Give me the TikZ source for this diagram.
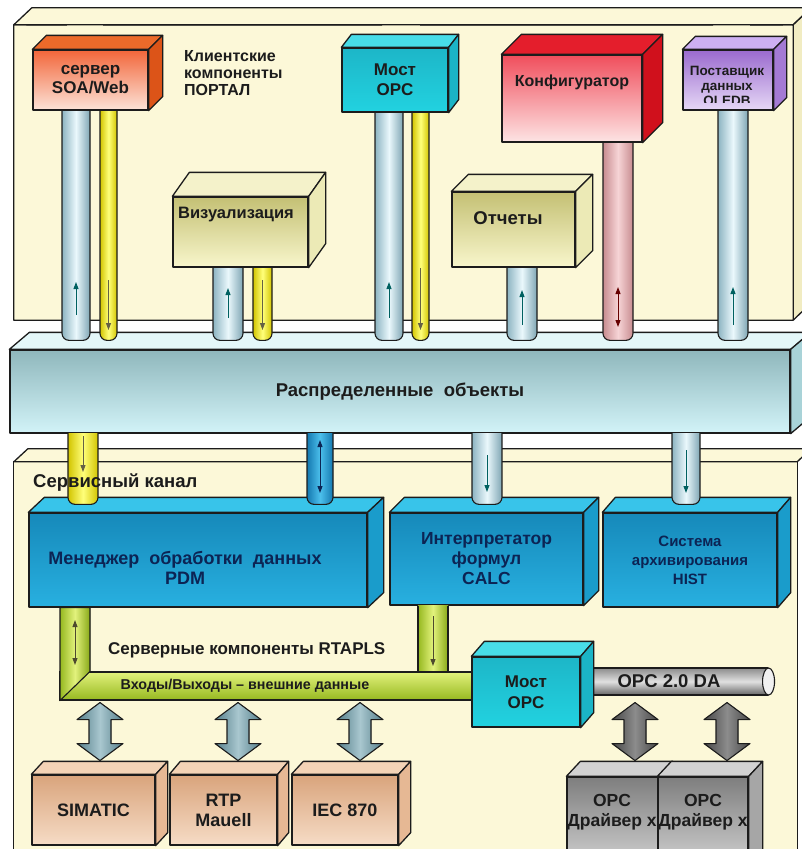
\documentclass[tikz,border=0pt]{standalone}
\usepackage{fontspec}
\setmainfont{Liberation Sans}
\usetikzlibrary{arrows.meta}

% palette
\definecolor{ink}{HTML}{1C1C1C}
\definecolor{navy}{HTML}{0C2454}
\definecolor{cream}{HTML}{FCF8D8}
\definecolor{creamside}{HTML}{F1ECC2}
\definecolor{barTop}{HTML}{E4F7F9}
\definecolor{barSide}{HTML}{A9D3D8}
\definecolor{barHi}{HTML}{8FB7BC}
\definecolor{barLo}{HTML}{D2F3F8}
\definecolor{soaHi}{HTML}{F2663A}
\definecolor{soaLo}{HTML}{FCE3D8}
\definecolor{soaTop}{HTML}{EC6A2A}
\definecolor{soaSide}{HTML}{DC5418}
\definecolor{cyanFront}{HTML}{22D2E0}
\definecolor{cyanHi}{HTML}{1DB6C8}
\definecolor{cyanTop}{HTML}{48DDE8}
\definecolor{cyanSide}{HTML}{1BB4C6}
\definecolor{cfgHi}{HTML}{F04E5C}
\definecolor{cfgLo}{HTML}{FDE4E4}
\definecolor{cfgTop}{HTML}{E41E2C}
\definecolor{cfgSide}{HTML}{D0101C}
\definecolor{oleHi}{HTML}{9A6ACE}
\definecolor{oleLo}{HTML}{E6D8F6}
\definecolor{oleTop}{HTML}{CDB0F2}
\definecolor{oleSide}{HTML}{A47AD4}
\definecolor{oliveHi}{HTML}{C4C074}
\definecolor{oliveLo}{HTML}{F8F6CC}
\definecolor{oliveTop}{HTML}{F4F2CA}
\definecolor{oliveSide}{HTML}{ECEAB6}
\definecolor{bluHi}{HTML}{1689BA}
\definecolor{bluLo}{HTML}{28B0E0}
\definecolor{bluTop}{HTML}{38C4EA}
\definecolor{bluSide}{HTML}{1A9CCB}
\definecolor{tanHi}{HTML}{D9A47C}
\definecolor{tanLo}{HTML}{F6DCC6}
\definecolor{tanTop}{HTML}{F3D3B6}
\definecolor{tanSide}{HTML}{E6B894}
\definecolor{grayHi}{HTML}{7E7E7E}
\definecolor{grayLo}{HTML}{D4D4D4}
\definecolor{grayTop}{HTML}{D2D2D2}
\definecolor{graySide}{HTML}{A6A6A6}
\definecolor{pbEdge}{HTML}{8DB4C2}
\definecolor{pbMid}{HTML}{EAF8FC}
\definecolor{pbDark}{HTML}{7FA6B4}
\definecolor{pyEdge}{HTML}{D2C400}
\definecolor{pyMid}{HTML}{FFFF7A}
\definecolor{ppEdge}{HTML}{C88C90}
\definecolor{ppMid}{HTML}{F6D4D6}
\definecolor{pdEdge}{HTML}{1478B0}
\definecolor{pdMid}{HTML}{4CC0EC}
\definecolor{limeEdge}{HTML}{96B820}
\definecolor{limeMid}{HTML}{E2F27C}
\definecolor{limeDark}{HTML}{88A818}
\definecolor{arrBlue}{HTML}{557F8B}
\definecolor{arrBlueMid}{HTML}{A9C7CF}

\newcommand\fs[2]{\fontsize{#1}{#2}\selectfont}

% front face of a block, given by its corners
\newcommand\frontbox[7]{%
  \node[front,#6,minimum width={#4-#2},minimum height={#5-#3}] (#1) at ({(#2+#4)/2},{(#3+#5)/2}) {#7};}
% top and right faces of a block
\newcommand\faces[5]{%
  \filldraw[edge,fill=#4] (#1.north west) -- ([shift={(#2,-#3)}]#1.north west)
     -- ([shift={(#2,-#3)}]#1.north east) -- (#1.north east) -- cycle;
  \filldraw[edge,fill=#5] (#1.north east) -- ([shift={(#2,-#3)}]#1.north east)
     -- ([shift={(#2,-#3)}]#1.south east) -- (#1.south east) -- cycle;}
% vertical pipe between x-left and x-right, from one point down to another
\newcommand\vpipe[5]{%
  \draw[#1] (#2,0 |- #4) -- (#2,0 |- #5) -- (#3,0 |- #5) -- (#3,0 |- #4);}
% double-headed block arrow hanging from a point
\newcommand\bigarrow[4]{%
  \begin{scope}[shift={(#2,0 |- #3)}]
    \filldraw[#1] (0,0) -- (23,17) -- (11,17) -- (11,#4-17) -- (23,#4-17) -- (0,#4)
       -- (-23,#4-17) -- (-11,#4-17) -- (-11,17) -- (-23,17) -- cycle;
  \end{scope}}

\tikzset{
  edge/.style={draw=ink,line width=1.3pt,line join=round},
  front/.style={edge,inner sep=0pt,align=center,font=\bfseries,text=ink},
  label/.style={inner sep=0pt,align=center,font=\bfseries,text=ink},
  pipe/.style={edge,line width=1.1pt,rounded corners=7pt},
  pipeblue/.style={pipe,left color=pbEdge,right color=pbDark,middle color=pbMid},
  pipeyellow/.style={pipe,left color=pyEdge,right color=pyEdge,middle color=pyMid},
  pipepink/.style={pipe,left color=ppEdge,right color=ppEdge,middle color=ppMid},
  pipedeep/.style={pipe,left color=pdEdge,right color=pdEdge,middle color=pdMid},
  pipelime/.style={edge,line width=1.1pt,left color=limeEdge,right color=limeDark,middle color=limeMid},
  flow/.style={line width=1pt,-{Triangle[length=7pt,width=5pt]}},
  flow2/.style={line width=1pt,{Triangle[length=7pt,width=5pt]}-{Triangle[length=7pt,width=5pt]}},
  bluearrow/.style={edge,line width=1.1pt,left color=arrBlue,right color=arrBlue,middle color=arrBlueMid},
  grayarrow/.style={edge,line width=1.1pt,left color=black!72,right color=black!72,middle color=black!45},
}

\begin{document}
\begin{tikzpicture}[x=1pt,y=-1pt]
\useasboundingbox (0,0) rectangle (802,849);
\clip (0,0) rectangle (802,849);
\fill[white] (0,0) rectangle (802,849);

% ---------- client panel ----------
\node[fill=cream,inner sep=0,minimum width=779,minimum height=295] (portal) at (403.5,172.5) {};
\filldraw[edge,fill=cream] (portal.north west) -- ++(18,-17) -- ++(779,0) -- (portal.north east) -- cycle;
\filldraw[edge,fill=creamside] (portal.north east) -- ++(18,-17) -- ++(0,295) -- (portal.south east) -- cycle;
\fill[cream] ([xshift=0.7pt,yshift=-0.7pt]portal.north west) rectangle ([xshift=-0.7pt]portal.south east);
\draw[edge] (portal.south east) -- (portal.south west) -- (portal.north west) -- (67,25)
  (103,25) -- (382,25) (420,25) -- (713,25) (750,25) -- (portal.north east) -- (portal.south east);

% ---------- distributed objects bar ----------
\frontbox{bar}{10}{350}{790}{433}{top color=barHi,bottom color=barLo,font=\bfseries\fs{18.5}{20}}{Распределенные\ \ объекты}
\faces{bar}{20}{17}{barTop}{barSide}
\coordinate (bartop) at ([yshift=9pt]bar.north);

% ---------- server panel ----------
\node[fill=cream,inner sep=0,minimum width=783,minimum height=400] (rtapls) at (405.5,662) {};
\filldraw[edge,fill=cream] (rtapls.north west) -- ++(14,-13) -- ++(783,0) -- (rtapls.north east) -- cycle;
\draw[edge] (rtapls.south west) -- (rtapls.north west) -- (rtapls.north east) -- (rtapls.south east);

% ---------- client pipes ----------
\coordinate (soa-b) at (90,110);
\coordinate (vis-b) at (240,267);
\coordinate (most-b) at (395,112);
\coordinate (otch-b) at (513,267);
\coordinate (konf-b) at (572,142);
\coordinate (post-b) at (728,110);
\vpipe{pipeblue}{62}{90}{soa-b}{bartop}
\vpipe{pipeyellow}{100}{117}{soa-b}{bartop}
\vpipe{pipeblue}{213}{243}{vis-b}{bartop}
\vpipe{pipeyellow}{253}{272}{vis-b}{bartop}
\vpipe{pipeblue}{375}{403}{most-b}{bartop}
\vpipe{pipeyellow}{412}{429}{most-b}{bartop}
\vpipe{pipeblue}{507}{537}{otch-b}{bartop}
\vpipe{pipepink}{603}{633}{konf-b}{bartop}
\vpipe{pipeblue}{718}{748}{post-b}{bartop}

\draw[flow,teal!75!black] (76,315) -- (76,282);
\draw[flow,black!70!yellow] (108.5,280) -- (108.5,330);
\draw[flow,teal!75!black] (228,318) -- (228,288);
\draw[flow,black!70!yellow] (262.5,280) -- (262.5,330);
\draw[flow,teal!75!black] (389,318) -- (389,282);
\draw[flow,black!70!yellow] (420.5,268) -- (420.5,330);
\draw[flow,teal!75!black] (522,325) -- (522,290);
\draw[flow2,red!40!black] (618,287) -- (618,327);
\draw[flow,teal!75!black] (733,325) -- (733,287);

% ---------- client blocks ----------
\frontbox{soa}{33}{50}{148}{110}{top color=soaHi,bottom color=soaLo,font=\bfseries\fs{17}{19}}{сервер\\SOA/Web}
\faces{soa}{14}{14}{soaTop}{soaSide}
\node[label,anchor=west,align=left,font=\bfseries\fs{16}{17}] (portal-title) at (184,73) {Клиентские\\компоненты\\ПОРТАЛ};

\frontbox{most}{342}{48}{448}{112}{top color=cyanHi,bottom color=cyanFront,font=\bfseries\fs{17}{20}}{Мост\\OPC}
\faces{most}{10}{13}{cyanTop}{cyanSide}

\frontbox{konf}{502}{55}{642}{142}{top color=cfgHi,bottom color=cfgLo}{}
\faces{konf}{20}{20}{cfgTop}{cfgSide}
\node[label,font=\bfseries\fs{16}{18}] (konf-text) at (572,82) {Конфигуратор};

\frontbox{post}{683}{50}{773}{110}{top color=oleHi,bottom color=oleLo}{}
\faces{post}{13}{13}{oleTop}{oleSide}
\begin{scope}
  \clip (686,54) rectangle (764,102);
  \node[label,font=\bfseries\fs{13.5}{15}] (post-text) at (727,86) {Поставщик\\данных\\OLEDB};
\end{scope}

\frontbox{vis}{173}{197}{308}{267}{top color=oliveHi,bottom color=oliveLo}{}
\faces{vis}{17}{24}{oliveTop}{oliveSide}
\node[label,font=\bfseries\fs{16.5}{18}] (vis-text) at (236,215) {Визуализация};

\frontbox{otch}{452}{192}{575}{267}{top color=oliveHi,bottom color=oliveLo}{}
\faces{otch}{17}{17}{oliveTop}{oliveSide}
\node[label,font=\bfseries\fs{18.5}{20}] (otch-text) at (508,218) {Отчеты};

% ---------- server blocks ----------
\frontbox{pdm}{29}{513}{367}{607}{top color=bluHi,bottom color=bluLo}{}
\faces{pdm}{16}{15}{bluTop}{bluSide}
\node[label,text=navy,font=\bfseries\fs{18}{20}] (pdm-text) at (185,568) {Менеджер\ \ обработки\ \ данных\\PDM};
\frontbox{calc}{390}{513}{583}{605}{top color=bluHi,bottom color=bluLo,text=navy,font=\bfseries\fs{17.5}{20}}{Интерпретатор\\формул\\CALC}
\faces{calc}{15}{15}{bluTop}{bluSide}
\frontbox{hist}{603}{513}{777}{607}{top color=bluHi,bottom color=bluLo,text=navy,font=\bfseries\fs{15}{19}}{Система\\архивирования\\HIST}
\faces{hist}{13}{15}{bluTop}{bluSide}

\coordinate (bar-b) at (400,433);
\coordinate (pdm-t) at ([yshift=8pt]pdm.north);
\coordinate (calc-t) at ([yshift=8pt]calc.north);
\coordinate (hist-t) at ([yshift=8pt]hist.north);
\vpipe{pipeyellow}{68}{98}{bar-b}{pdm-t}
\vpipe{pipedeep}{307}{333}{bar-b}{pdm-t}
\vpipe{pipeblue}{472}{502}{bar-b}{calc-t}
\vpipe{pipeblue}{672}{700}{bar-b}{hist-t}
\draw[flow,black!70!yellow] (83,436) -- (83,472);
\draw[flow2,navy] (320,440) -- (320,493);
\draw[flow,teal!75!black] (487,455) -- (487,492);
\draw[flow,teal!75!black] (686,450) -- (686,493);
\node[label,anchor=west,font=\bfseries\fs{18.5}{20}] (service) at (33,483) {Сервисный канал};

% ---------- I/O bus ----------
\node[label,anchor=west,font=\bfseries\fs{17}{20}] (rtapls-title) at (108,650) {Серверные компоненты RTAPLS};
\node[edge,line width=1.1pt,inner sep=0,minimum width=415,minimum height=28,top color=limeMid,bottom color=limeEdge] (io) at (267.5,686) {};
\node[label,font=\bfseries\fs{14.3}{16}] (io-text) at (245,686) {Входы/Выходы -- внешние данные};
\filldraw[pipelime] (60,0 |- pdm.south) -- (90,0 |- pdm.south) -- (90,0 |- io.north) -- (60,0 |- io.south) -- cycle;
\draw[edge,line width=1.1pt] (io.south west) -- (io.north west);
\vpipe{pipelime}{418}{448}{calc.south}{io.north}
\draw[flow2,black!60!olive] (75,620) -- (75,665);
\draw[flow,black!60!olive] (433,616) -- (433,666);

% ---------- OPC branch ----------
\node[edge,line width=1.1pt,inner sep=0,minimum width=186,minimum height=27,
      top color=black!45,bottom color=black!60,middle color=black!12] (opcda) at (675,681.5) {};
\node[label,font=\bfseries\fs{18.5}{20}] (opcda-text) at (669,681.5) {OPC 2.0 DA};
\filldraw[edge,line width=1.1pt,fill=black!6] (opcda.east) ellipse (6 and 13.5);
\frontbox{most2}{472}{657}{580}{727}{top color=cyanHi,bottom color=cyanFront,font=\bfseries\fs{17}{21}}{Мост\\OPC}
\faces{most2}{13}{15}{cyanTop}{cyanSide}

% ---------- external devices ----------
\coordinate (io-b) at ([yshift=-2pt]io.south);
\coordinate (opc-b) at ([yshift=-7pt]opcda.south);
\bigarrow{bluearrow}{100}{io-b}{58}
\bigarrow{bluearrow}{238}{io-b}{58}
\bigarrow{bluearrow}{360}{io-b}{58}
\bigarrow{grayarrow}{635}{opc-b}{58}
\bigarrow{grayarrow}{727}{opc-b}{58}

\frontbox{simatic}{32}{775}{155}{845}{top color=tanHi,bottom color=tanLo,font=\bfseries\fs{18}{20}}{SIMATIC}
\faces{simatic}{12}{13}{tanTop}{tanSide}
\frontbox{rtp}{170}{775}{277}{845}{top color=tanHi,bottom color=tanLo,font=\bfseries\fs{18}{20}}{RTP\\Mauell}
\faces{rtp}{11}{13}{tanTop}{tanSide}
\frontbox{iec}{292}{775}{398}{845}{top color=tanHi,bottom color=tanLo,font=\bfseries\fs{18}{20}}{IEC 870}
\faces{iec}{12}{13}{tanTop}{tanSide}

\frontbox{drv1}{567}{777}{658}{870}{top color=grayHi,bottom color=grayLo}{}
\faces{drv1}{14}{15}{grayTop}{graySide}
\frontbox{drv2}{658}{777}{748}{870}{top color=grayHi,bottom color=grayLo}{}
\faces{drv2}{14}{15}{grayTop}{graySide}
\node[label,font=\bfseries\fs{17.5}{20}] (drv1-text) at (612,812) {OPC\\Драйвер x};
\node[label,font=\bfseries\fs{17.5}{20}] (drv2-text) at (703,812) {OPC\\Драйвер x};
\end{tikzpicture}
\end{document}
